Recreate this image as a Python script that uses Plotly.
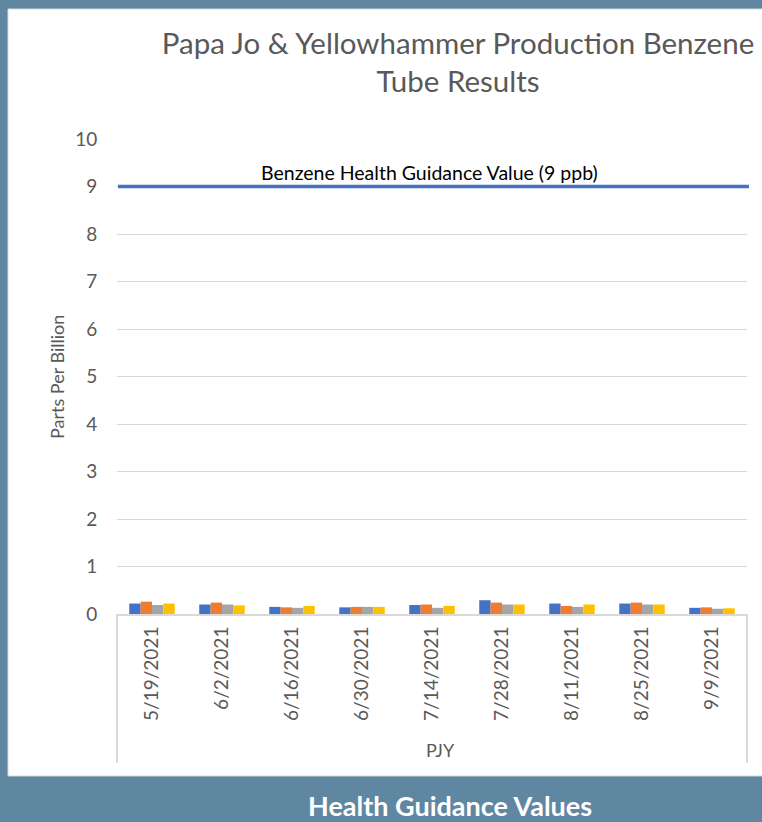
import plotly.graph_objects as go

dates = ["5/19/2021", "6/2/2021", "6/16/2021", "6/30/2021", "7/14/2021",
         "7/28/2021", "8/11/2021", "8/25/2021", "9/9/2021"]
tube1 = [0.22, 0.20, 0.15, 0.14, 0.19, 0.29, 0.22, 0.22, 0.13]
tube2 = [0.26, 0.24, 0.14, 0.15, 0.20, 0.24, 0.17, 0.24, 0.14]
tube3 = [0.19, 0.20, 0.13, 0.15, 0.13, 0.20, 0.15, 0.20, 0.11]
tube4 = [0.22, 0.18, 0.17, 0.15, 0.17, 0.20, 0.20, 0.20, 0.12]
hgv_value = 9
hgv_label = "Benzene Health Guidance Value (9 ppb)"
group_label = "PJY"
y_ticks = list(range(0, 11))

series = [tube1, tube2, tube3, tube4]
colors = ["#4472C4", "#ED7D31", "#A5A5A5", "#FFC000"]

FONT = "Lato"
BG = "#5F87A2"

# plot area pixel geometry
L, R, T, B = 117, 747, 139, 614
W, H = 762, 822
pw, ph = R - L, B - T


def px(x):
    return (x - L) / pw


def py(y):
    return (B - y) / ph


fig = go.Figure()
for vals, c in zip(series, colors):
    fig.add_trace(go.Bar(x=dates, y=vals, marker=dict(color=c, line=dict(width=0)),
                         showlegend=False))

shapes = [
    # white chart panel
    dict(type="rect", xref="paper", yref="paper", x0=px(8), x1=px(775), y0=py(776), y1=py(9),
         fillcolor="white", line=dict(color="#D9D9D9", width=1), layer="below"),
    # category group separators
    dict(type="line", xref="paper", yref="paper", x0=0, x1=0, y0=0, y1=py(763),
         line=dict(color="#D9D9D9", width=2)),
    dict(type="line", xref="paper", yref="paper", x0=1, x1=1, y0=0, y1=py(763),
         line=dict(color="#D9D9D9", width=2)),
    # health guidance value line
    dict(type="line", xref="paper", yref="y", x0=px(118), x1=px(749), y0=hgv_value, y1=hgv_value,
         line=dict(color="#4472C4", width=3.5)),
]

annotations = [
    dict(text=hgv_label, xref="paper", yref="paper", x=px(429), y=py(172), showarrow=False,
         font=dict(family=FONT, size=19.5, color="#000000"), xanchor="center", yanchor="middle"),
    dict(text="Parts Per Billion", xref="paper", yref="paper", x=px(57), y=py(377), showarrow=False,
         textangle=-90, font=dict(family=FONT, size=18, color="#595959"),
         xanchor="center", yanchor="middle"),
    dict(text=group_label, xref="paper", yref="paper", x=px(440), y=py(750), showarrow=False,
         font=dict(family=FONT, size=18, color="#595959"), xanchor="center", yanchor="middle"),
    dict(text="<b>Health Guidance Values</b>", xref="paper", yref="paper", x=px(450), y=py(805),
         showarrow=False, font=dict(family=FONT, size=27, color="white"),
         xanchor="center", yanchor="middle"),
]

fig.update_layout(
    width=W, height=H,
    margin=dict(l=L, r=W - R, t=T, b=H - B, pad=0),
    paper_bgcolor=BG, plot_bgcolor="white",
    barmode="group", bargap=0.35, bargroupgap=0,
    title=dict(text="Papa Jo & Yellowhammer Production Benzene<br>Tube Results",
               x=458 / W, xanchor="center", xref="container",
               y=1 - 54 / H, yanchor="middle", yref="container",
               font=dict(family=FONT, size=29.5, color="#595959")),
    shapes=shapes, annotations=annotations,
    font=dict(family=FONT, color="#595959"),
)
fig.update_xaxes(type="category", tickangle=-90, showgrid=False, showline=True,
                 linecolor="#D9D9D9", linewidth=2, ticks="outside", ticklen=3,
                 tickcolor="rgba(0,0,0,0)", tickfont=dict(family=FONT, size=19, color="#595959"))
fig.update_yaxes(range=[0, 10], tickvals=y_ticks, showgrid=True, gridcolor="#D9D9D9", gridwidth=1,
                 zeroline=False, showline=False, ticks="outside", ticklen=15,
                 tickcolor="rgba(0,0,0,0)", tickfont=dict(family=FONT, size=19, color="#595959"))

fig.write_html("out.html", config={"displayModeBar": False},
               post_script="document.body.style.margin='0';document.body.style.background='%s';" % BG)
